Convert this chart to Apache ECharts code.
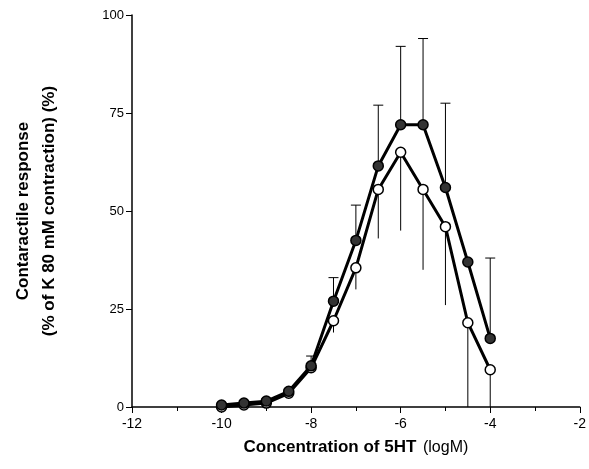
<!DOCTYPE html>
<html><head><meta charset="utf-8">
<script src="https://cdn.jsdelivr.net/npm/echarts@6/dist/echarts.min.js"></script>
<style>html,body{margin:0;background:#fff}#c{width:589px;height:469px}</style>
</head><body><div id="c"></div>
<script>
const conc = [-10, -9.5, -9, -8.5, -8, -7.5, -7, -6.5, -6, -5.5, -5, -4.5, -4];
const filled = [0.5, 1, 1.5, 4, 10.5, 27, 42.5, 61.5, 72, 72, 56, 37, 17.5];
const filledUpper = [0.5, 1, 2, 4.5, 13, 33, 51.5, 77, 92, 94, 77.5, 37, 38];
const open = [0, 0.5, 1, 3.5, 10, 22, 35.5, 55.5, 65, 55.5, 46, 21.5, 9.5];
const openLower = [0, 0.5, 1, 3.5, 9, 19, 30, 43, 45, 35, 26, 0, 0];

const chart = echarts.init(document.getElementById('c'));
const barItem = (params, api) => {
  const p0 = api.coord([api.value(0), api.value(1)]);
  const p1 = api.coord([api.value(0), api.value(2)]);
  const cap = api.value(2) > api.value(1) ? 5 : 0;
  const children = [{ type: 'line', shape: { x1: p0[0], y1: p0[1], x2: p1[0], y2: p1[1] }, style: { stroke: '#000', lineWidth: 1 } }];
  if (cap) children.push({ type: 'line', shape: { x1: p1[0] - cap, y1: p1[1], x2: p1[0] + cap, y2: p1[1] }, style: { stroke: '#000', lineWidth: 1 } });
  return { type: 'group', children };
};
chart.setOption({
  animation: false,
  grid: { left: 132, right: 7, top: 15, bottom: 62 },
  xAxis: {
    type: 'value', min: -12, max: -2, interval: 2,
    name: '{b|Concentration of 5HT}  {n|(logM)}', nameLocation: 'middle', nameGap: 32,
    nameTextStyle: { rich: { b: { fontSize: 17, fontWeight: 'bold', fontFamily: 'Liberation Sans', color: '#000' }, n: { fontSize: 16, fontFamily: 'Liberation Sans', color: '#000' } } },
    axisLine: { lineStyle: { color: '#000', width: 1.5 } },
    axisTick: { length: 6, lineStyle: { color: '#000' } },
    minorTick: { show: true, splitNumber: 2, length: 4, lineStyle: { color: '#000' } },
    axisLabel: { color: '#000', fontSize: 14, fontFamily: 'Liberation Sans', margin: 10 },
    splitLine: { show: false }
  },
  yAxis: {
    type: 'value', min: 0, max: 100, interval: 25,
    name: 'Contaractile response\n(% of K 80 mM contraction) (%)', nameLocation: 'middle', nameGap: 70,
    nameTextStyle: { fontSize: 17, fontWeight: 'bold', fontFamily: 'Liberation Sans', color: '#000', lineHeight: 26 },
    axisLine: { show: true, lineStyle: { color: '#000', width: 1.5 } },
    axisTick: { show: true, length: 6, lineStyle: { color: '#000' } },
    axisLabel: { color: '#000', fontSize: 13, fontFamily: 'Liberation Sans' },
    splitLine: { show: false }
  },
  series: [
    { type: 'custom', renderItem: barItem, data: conc.map((x, i) => [x, filled[i], filledUpper[i]]), z: 1 },
    { type: 'custom', renderItem: barItem, data: conc.map((x, i) => [x, open[i], openLower[i]]), z: 1 },
    { type: 'line', data: conc.map((x, i) => [x, open[i]]), symbol: 'circle', symbolSize: 10,
      lineStyle: { color: '#000', width: 3 }, itemStyle: { color: '#fff', borderColor: '#000', borderWidth: 1.5 }, z: 3 },
    { type: 'line', data: conc.map((x, i) => [x, filled[i]]), symbol: 'circle', symbolSize: 10,
      lineStyle: { color: '#000', width: 3 }, itemStyle: { color: '#333', borderColor: '#000', borderWidth: 1.5 }, z: 4 }
  ]
});
</script></body></html>
